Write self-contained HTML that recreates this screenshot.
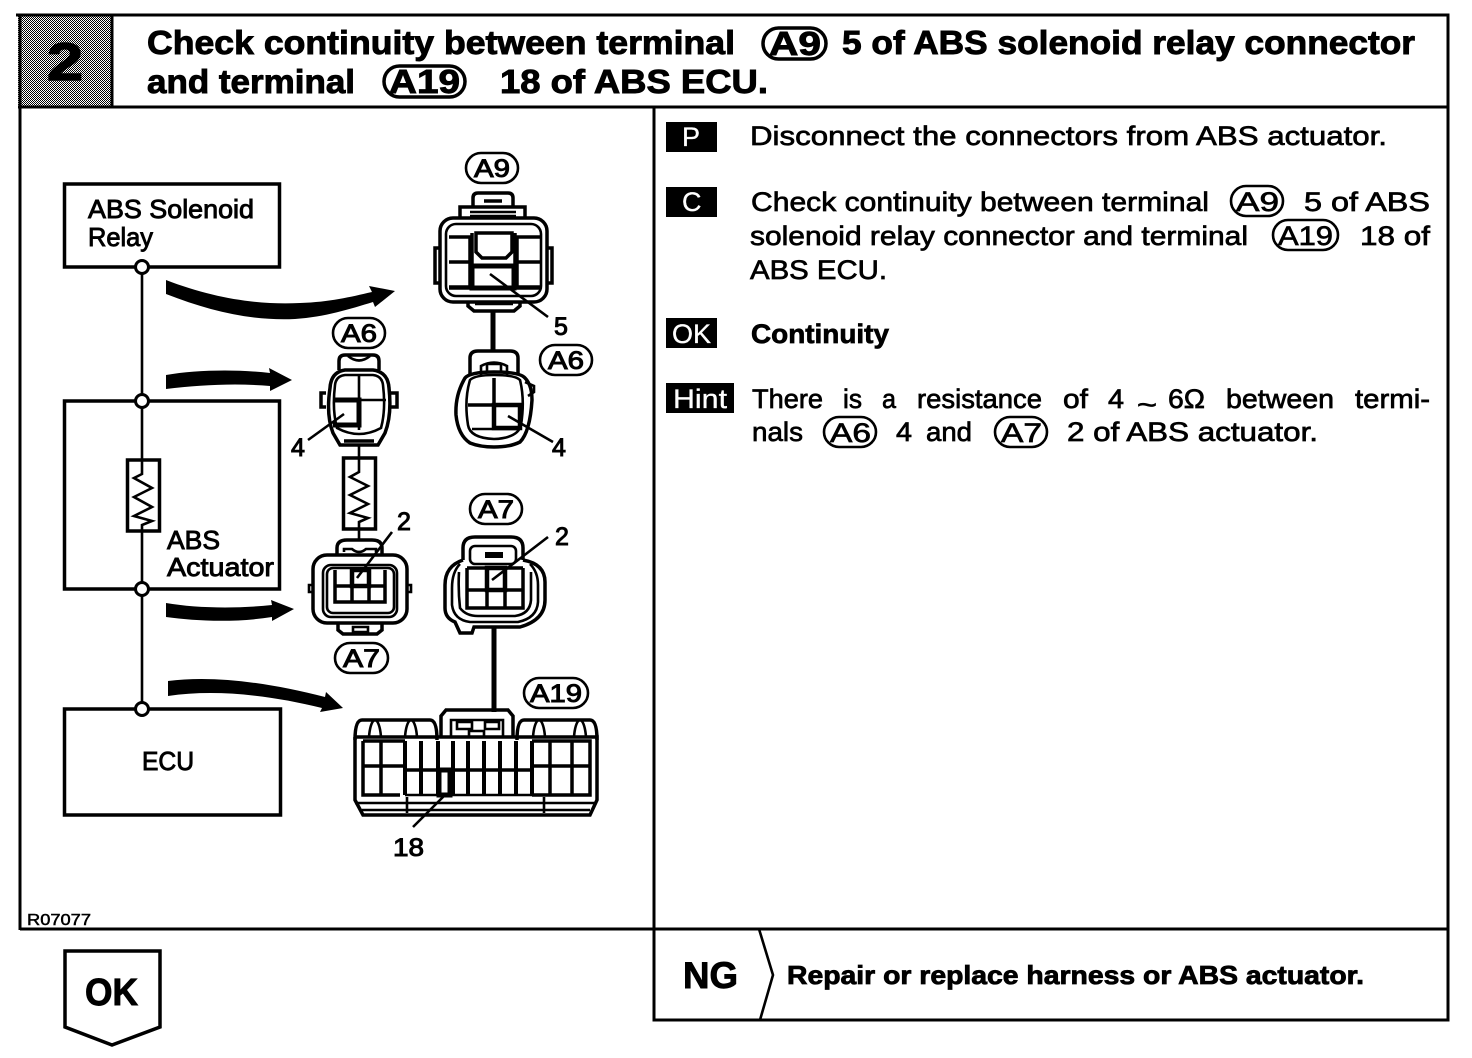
<!DOCTYPE html>
<html><head><meta charset="utf-8"><style>
html,body{margin:0;padding:0;background:#fff}
svg{display:block}
text{font-family:"Liberation Sans",sans-serif;fill:#000}
.h{font-size:33px;font-weight:bold;stroke:#000;stroke-width:.9px}
.b{font-size:27px;stroke:#000;stroke-width:.7px}
.d{font-size:26px;stroke:#000;stroke-width:.9px}
.n{font-size:25px;stroke:#000;stroke-width:1px}
.w{font-size:27px;stroke:#fff;stroke-width:.3px;fill:#fff}
.c{fill:none;stroke:#000;stroke-width:3.500}
.t{fill:none;stroke:#000;stroke-width:2.600}
.k{fill:none;stroke:#000;stroke-width:5}
</style></head><body>
<svg width="1472" height="1058" viewBox="0 0 1472 1058" xmlns="http://www.w3.org/2000/svg">
<defs><pattern id="g" width="2" height="2" patternUnits="userSpaceOnUse"><rect width="2" height="2" fill="#fff"/><rect width="1" height="1" fill="#000"/><rect x="1" y="1" width="1" height="1" fill="#000"/></pattern></defs>

<!-- frame -->
<rect x="18" y="16" width="94" height="91" fill="url(#g)"/>
<g fill="none" stroke="#000">
<path d="M16 15H1448V1020H654V107M18 107H1448M112 15V107M20 15V930M20 929H1448" stroke-width="3"/>
</g>
<text x="47" y="80" font-size="53" font-weight="bold" textLength="36" lengthAdjust="spacingAndGlyphs" stroke="#000" stroke-width="1.500">2</text>

<!-- title -->
<text class="h" x="147" y="54" textLength="588" lengthAdjust="spacingAndGlyphs">Check continuity between terminal</text>
<rect x="763" y="28" width="63" height="31" rx="15.5" class="c"/>
<text class="h" x="769" y="55" textLength="52" lengthAdjust="spacingAndGlyphs">A9</text>
<text class="h" x="842" y="54" textLength="573" lengthAdjust="spacingAndGlyphs">5 of ABS solenoid relay connector</text>
<text class="h" x="147" y="93" textLength="208" lengthAdjust="spacingAndGlyphs">and terminal</text>
<rect x="384" y="66" width="81" height="31" rx="15.5" class="c"/>
<text class="h" x="389" y="93" textLength="71" lengthAdjust="spacingAndGlyphs">A19</text>
<text class="h" x="500" y="93" textLength="268" lengthAdjust="spacingAndGlyphs">18 of ABS ECU.</text>

<!-- right column -->
<rect x="666" y="122" width="51" height="30"/>
<text class="w" x="682" y="146">P</text>
<text class="b" x="750" y="145" textLength="637" lengthAdjust="spacingAndGlyphs">Disconnect the connectors from ABS actuator.</text>

<rect x="666" y="187" width="51" height="30"/>
<text class="w" x="682" y="211">C</text>
<text class="b" x="751" y="211" textLength="458" lengthAdjust="spacingAndGlyphs">Check continuity between terminal</text>
<rect x="1231" y="186" width="52" height="30" rx="15" class="t"/>
<text class="b" x="1236" y="211" textLength="43" lengthAdjust="spacingAndGlyphs">A9</text>
<text class="b" x="1304" y="211" textLength="126" lengthAdjust="spacingAndGlyphs">5 of ABS</text>
<text class="b" x="750" y="245" textLength="498" lengthAdjust="spacingAndGlyphs">solenoid relay connector and terminal</text>
<rect x="1273" y="220" width="65" height="30" rx="15" class="t"/>
<text class="b" x="1278" y="245" textLength="55" lengthAdjust="spacingAndGlyphs">A19</text>
<text class="b" x="1360" y="245" textLength="70" lengthAdjust="spacingAndGlyphs">18 of</text>
<text class="b" x="750" y="279" textLength="137" lengthAdjust="spacingAndGlyphs">ABS ECU.</text>

<rect x="666" y="318" width="51" height="30"/>
<text class="w" x="672" y="343" textLength="39" lengthAdjust="spacingAndGlyphs">OK</text>
<text class="b" x="751" y="343" font-weight="bold" textLength="138" lengthAdjust="spacingAndGlyphs">Continuity</text>

<rect x="666" y="383" width="68" height="30"/>
<text class="w" x="673" y="408" textLength="54" lengthAdjust="spacingAndGlyphs">Hint</text>
<text class="b" x="752" y="408" textLength="71" lengthAdjust="spacingAndGlyphs">There</text>
<text class="b" x="843" y="408" textLength="19" lengthAdjust="spacingAndGlyphs">is</text>
<text class="b" x="882" y="408" textLength="14" lengthAdjust="spacingAndGlyphs">a</text>
<text class="b" x="917" y="408" textLength="125" lengthAdjust="spacingAndGlyphs">resistance</text>
<text class="b" x="1063" y="408" textLength="25" lengthAdjust="spacingAndGlyphs">of</text>
<text class="b" x="1108" y="408" textLength="16" lengthAdjust="spacingAndGlyphs">4</text>
<text class="b" x="1137" y="414" textLength="20" lengthAdjust="spacingAndGlyphs">~</text>
<text class="b" x="1168" y="408" textLength="37" lengthAdjust="spacingAndGlyphs">6Ω</text>
<text class="b" x="1226" y="408" textLength="108" lengthAdjust="spacingAndGlyphs">between</text>
<text class="b" x="1355" y="408" textLength="75" lengthAdjust="spacingAndGlyphs">termi-</text>
<text class="b" x="752" y="441" textLength="51" lengthAdjust="spacingAndGlyphs">nals</text>
<rect x="824" y="417" width="52" height="30" rx="15" class="t"/>
<text class="b" x="830" y="442" textLength="41" lengthAdjust="spacingAndGlyphs">A6</text>
<text class="b" x="896" y="441" textLength="16" lengthAdjust="spacingAndGlyphs">4</text>
<text class="b" x="926" y="441" textLength="46" lengthAdjust="spacingAndGlyphs">and</text>
<rect x="995" y="417" width="52" height="30" rx="15" class="t"/>
<text class="b" x="1001" y="442" textLength="41" lengthAdjust="spacingAndGlyphs">A7</text>
<text class="b" x="1067" y="441" textLength="251" lengthAdjust="spacingAndGlyphs">2 of ABS actuator.</text>

<!-- footer -->
<text x="683" y="988" font-size="37" font-weight="bold" textLength="55" lengthAdjust="spacingAndGlyphs" stroke="#000" stroke-width=".9">NG</text>
<path d="M759 929L773 975L760 1020" class="t"/>
<text x="787" y="984" font-size="26" font-weight="bold" textLength="577" lengthAdjust="spacingAndGlyphs" stroke="#000" stroke-width=".8">Repair or replace harness or ABS actuator.</text>
<path d="M65 951H160V1027L112 1045L65 1027Z" class="c"/>
<text x="85" y="1005" font-size="38" font-weight="bold" textLength="53" lengthAdjust="spacingAndGlyphs" stroke="#000" stroke-width=".9">OK</text>
<text x="27" y="925" font-size="16" textLength="64" lengthAdjust="spacingAndGlyphs" stroke="#000" stroke-width=".5">R07077</text>

<!-- block diagram -->
<g class="c">
<rect x="64.500" y="184" width="215" height="83" class="c"/>
<rect x="64.500" y="401" width="215" height="188" class="c"/>
<rect x="64.500" y="709" width="216" height="106" class="c"/>
<path d="M142 267V460M142 531V709" class="t"/>
<rect x="127.500" y="460" width="32" height="71" class="c"/>
<path d="M142 460V474L134 478L152 488L134 497L152 507L134 516L152 521L142 525V531" class="t"/>
</g>
<g fill="#fff" stroke="#000" stroke-width="3">
<circle cx="142" cy="267" r="6.500"/><circle cx="142" cy="401" r="6.500"/><circle cx="142" cy="589" r="6.500"/><circle cx="142" cy="709" r="6.500"/>
</g>
<text class="d" x="88" y="218" textLength="166" lengthAdjust="spacingAndGlyphs">ABS Solenoid</text>
<text class="d" x="88" y="246" textLength="65" lengthAdjust="spacingAndGlyphs">Relay</text>
<text class="d" x="167" y="549" textLength="53" lengthAdjust="spacingAndGlyphs">ABS</text>
<text class="d" x="167" y="576" textLength="107" lengthAdjust="spacingAndGlyphs">Actuator</text>
<text class="d" x="142" y="770" textLength="52" lengthAdjust="spacingAndGlyphs">ECU</text>

<!-- arrows -->
<path d="M166 280C215 299 260 305 300 303C330 302 350 297 372 292L369 286L395 291L375 307L373 302C350 309 325 317 295 319C250 321 210 311 166 294Z"/>
<path d="M166 375C195 370 235 369 270 373L269 368L292 380L270 391L270 386C235 383 200 385 166 389Z"/>
<path d="M166 603C195 608 235 609 272 605L271 600L294 609L272 621L272 617C235 623 195 621 166 617Z"/>
<path d="M168 681C215 675 270 683 325 697L326 692L343 708L320 712L322 708C270 695 215 689 168 696Z"/>

<!-- connector pills -->
<g class="t">
<rect x="466" y="153" width="52" height="30" rx="15" class="t"/>
<rect x="333" y="318" width="52" height="30" rx="15" class="t"/>
<rect x="540" y="345" width="52" height="30" rx="15" class="t"/>
<rect x="470" y="494" width="52" height="30" rx="15" class="t"/>
<rect x="335" y="643" width="53" height="30" rx="15" class="t"/>
<rect x="524" y="678" width="64" height="30" rx="15" class="t"/>
</g>
<text class="n" x="474" y="177" textLength="36" lengthAdjust="spacingAndGlyphs">A9</text>
<text class="n" x="341" y="342" textLength="36" lengthAdjust="spacingAndGlyphs">A6</text>
<text class="n" x="548" y="369" textLength="36" lengthAdjust="spacingAndGlyphs">A6</text>
<text class="n" x="478" y="518" textLength="36" lengthAdjust="spacingAndGlyphs">A7</text>
<text class="n" x="343" y="667" textLength="37" lengthAdjust="spacingAndGlyphs">A7</text>
<text class="n" x="530" y="702" textLength="52" lengthAdjust="spacingAndGlyphs">A19</text>

<!-- A9 -->
<g class="c">
<path d="M473 207V198Q473 193 478 193H508Q513 193 513 198V207"/>
<path d="M460 218V207H525V218"/>
<path d="M470 212H516M470 216H516" class="t"/>
<rect x="440" y="218" width="107" height="84" rx="13"/>
<rect x="446" y="224" width="95" height="72" rx="10" class="t"/>
<path d="M440 248H435V283H440M547 248H552V283H547"/>
<path d="M468 302V306L474 311H514L520 306V302"/>
<path d="M475 304H513" class="t"/>
<path d="M449 237H470V287H449M449 262H470M541 237H517V287H541M517 262H541"/>
<path d="M476 233H512V252L506 258H482L476 252Z"/>
<path d="M472 233V288M515 233V288" class="c"/>
<path d="M472 266H514V288H472Z" stroke-width="5"/>
<path d="M449 288H541"/>
<path d="M484 201H502"/>
</g>
<path d="M490 274L548 317" class="t"/>
<path d="M493 311V350" class="k"/>
<text class="n" x="554" y="335" font-size="24">5</text>

<!-- A6 right -->
<g class="c">
<path d="M470 375V358Q470 351 478 351H510Q518 351 518 358V375"/>
<path d="M481 375V366Q494 359 507 366V375" class="t"/>
<path d="M487 364H501V372H487Z" class="t"/>
<path d="M465 378Q455 395 456 415Q458 435 470 443Q480 447 494 447Q510 447 520 442Q530 432 532 400Q532 385 525 378Q520 372 494 372Q470 372 465 378Z"/>
<path d="M470 380Q464 400 468 425Q470 438 494 439Q518 438 521 425Q525 400 520 380Q515 375 494 375Q475 375 470 380Z" class="t"/>
<path d="M494 378V430M468 405H520" class="c"/>
<path d="M494 405H520V428H494Z" stroke-width="4.500"/>
<path d="M472 429H518" class="t"/>
<path d="M525 382L534 386V392L528 396" class="t"/>
</g>
<path d="M508 416L553 442" class="t"/>
<text class="n" x="552" y="456" font-size="24">4</text>

<!-- A6 left -->
<g class="c">
<path d="M339 370V361Q339 355 345 355H373Q379 355 379 361V370"/>
<path d="M348 356Q359 365 370 356" class="t"/>
<path d="M330 388Q331 372 345 370H373Q388 372 389 388Q392 415 385 433L378 445H340L333 433Q326 415 330 388Z"/>
<path d="M335 385Q336 376 345 375H373Q382 376 383 385Q386 410 381 428Q370 434 359 434Q348 434 337 428Q332 410 335 385Z" class="t"/>
<path d="M359 376V430M333 400H386" class="t"/>
<path d="M333 400H359V425H333" stroke-width="5"/>
<path d="M326 393H321V407H326M391 393H397V407H391"/>
<path d="M344 441H374" class="c"/>
<path d="M359 445V458" class="t"/>
</g>
<path d="M344 414L308 440" class="t"/>
<text class="n" x="291" y="456" font-size="24">4</text>

<!-- Resistor middle -->
<rect x="343.500" y="458" width="32" height="71" class="c"/>
<path d="M359 458V472L350 477L368 486L350 495L368 504L350 513L368 518L359 522V541" class="t"/>

<!-- A7 left -->
<g class="c">
<rect x="313" y="555" width="94" height="68" rx="14"/>
<rect x="323" y="565" width="74" height="52" rx="8" class="t"/>
<rect x="327" y="568" width="67" height="45" rx="6" class="t"/>
<path d="M337 555V548Q337 540 347 540H372Q382 540 382 548V555"/>
<path d="M344 552V549H352Q359 555 366 549H376V552" class="t"/>
<path d="M338 623V630L343 634H377L382 630V623"/>
<path d="M353 627H368V632H353Z" class="t"/>
<path d="M335 570V602H385V570M352 570V602M369 570V602M335 586H385"/>
<path d="M352 570H369V586H352Z" stroke-width="4.500"/>
<path d="M313 585H309V592H313M407 585H411V592H407" class="t"/>
</g>
<path d="M357 578L392 532" class="t"/>
<text class="n" x="397" y="530" font-size="24">2</text>

<!-- A7 right -->
<g class="c">
<path d="M463 560V548Q463 537 475 537H511Q523 537 523 548V560"/>
<path d="M463 560Q445 566 445 585V608Q445 618 455 622L460 633H472L474 627H520Q545 620 545 600V582Q545 564 523 560"/>
<path d="M460 564Q452 572 452 588V605Q454 620 470 622H518Q537 618 538 602V585Q538 572 530 564" class="t"/>
<rect x="470" y="546" width="46" height="18" rx="5" class="t"/>
<rect x="485" y="552" width="18" height="6" fill="#000" stroke="none"/>
<path d="M467 568V608H523V568M467 568H523M487 568V608M505 568V608M467 590H523"/>
<path d="M487 568H505V590H487Z" stroke-width="4.500"/>
<path d="M459 572Q458 590 460 608Q466 616 478 616H515Q530 614 531 600V572" class="t"/>
</g>
<path d="M492 580L548 537" class="t"/>
<text class="n" x="555" y="545" font-size="24">2</text>
<path d="M494 627V712" class="k"/>

<!-- A19 -->
<g class="c">
<path d="M355 740Q355 720 362 720H430Q437 720 437 740"/>
<path d="M517 740Q517 720 524 720H590Q597 720 597 740"/>
<path d="M441 737V716L446 710H508L513 716V737"/>
<path d="M355 737V800L363 815H590L597 800V737H355"/>
<path d="M362 810H590M355 803H597" class="t"/>
<path d="M451 736V720H503V736" class="t"/>
<path d="M457 722H472V729H457ZM485 722H499V729H485ZM469 731H484V737H469Z" class="t"/>
<path d="M374 720Q370 724 369 737M376 720Q380 724 381 737M410 720Q406 724 405 737M412 720Q416 724 417 737M538 720Q534 724 533 737M540 720Q544 724 545 737M579 720Q575 724 574 737M581 720Q585 724 586 737" class="t"/>
<path d="M363 741V795H400M363 741H405M381 741V795M363 766H405"/>
<path d="M405 741V795M421 741V795M438 741V795M453 741V795M468 741V795M484 741V795M500 741V795M516 741V795M532 741V795" stroke-width="4"/>
<path d="M405 770H532"/>
<path d="M532 741H590V795H532M550 741V795M572 741V795M532 766H590"/>
<path d="M405 795H532" class="t"/>
<rect x="439" y="770" width="11" height="25" fill="none" stroke-width="5"/>
<path d="M407 797V813M544 797V813" class="t"/>
</g>
<path d="M445 795L413 827" class="t"/>
<text class="n" x="393" y="856" font-size="24" textLength="31" lengthAdjust="spacingAndGlyphs">18</text>
</svg>
</body></html>
